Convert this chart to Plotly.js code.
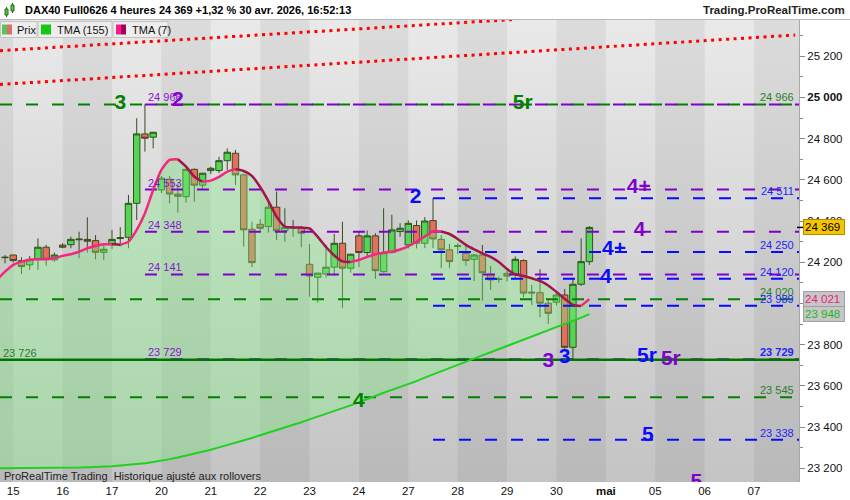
<!DOCTYPE html>
<html>
<head>
<meta charset="utf-8">
<script src="https://cdn.plot.ly/plotly-3.0.1.min.js"></script>
<style>
  html, body { margin:0; padding:0; background:#fff; }
  #chart { width:850px; height:500px; }
</style>
</head>
<body>
<div id="chart"></div>
<script>
// ---------- DATA ----------
const dayTickIdx = [1,7,13,19,25,31,37,43,49,55,61,67,73,79,85,91];
const dayLabels  = ['15','16','17','20','21','22','23','24','27','28','29','30','<b>mai</b>','05','06','07'];

const candleOpen  = [24222,24235,24208,24187,24214,24273,24211,24283,24285,24309,24311,24305,24248,24284,24315,24321,24486,24823,24807,24551,24603,24531,24518,24651,24574,24645,24645,24693,24729,24624,24360,24384,24373,24467,24353,24366,24365,24190,24127,24143,24176,24292,24171,24328,24247,24328,24154,24247,24349,24284,24378,24292,24402,24311,24260,24277,24243,24214,24235,24141,24116,24146,24142,24208,24050,24052,24001,24006,24041,23787,24093,24203];
const candleHigh  = [24235,24237,24224,24230,24316,24284,24247,24292,24324,24348,24418,24332,24289,24357,24370,24527,24899,24966,24833,24619,24619,24583,24653,24655,24634,24664,24712,24753,24745,24630,24397,24409,24494,24543,24462,24405,24376,24289,24149,24284,24337,24396,24241,24348,24354,24341,24462,24430,24389,24403,24403,24419,24511,24332,24289,24292,24280,24240,24284,24182,24130,24160,24228,24214,24090,24166,24017,24061,24070,24124,24316,24375];
const candleLow   = [24195,24198,24143,24163,24163,24182,24203,24268,24268,24219,24247,24214,24211,24263,24276,24268,24405,24737,24753,24536,24486,24441,24489,24494,24556,24628,24632,24648,24575,24276,24176,24353,24344,24308,24300,24324,24273,24033,24004,24125,24133,23977,24149,24176,24227,24119,24149,24242,24324,24267,24267,24268,24268,24171,24171,24240,24183,24109,24013,24066,24100,24107,24117,24030,23993,23933,23900,23991,23780,23729,24085,24187];
const candleClose = [24224,24208,24179,24214,24273,24214,24235,24273,24311,24312,24302,24248,24263,24311,24320,24486,24823,24802,24831,24608,24531,24520,24651,24574,24632,24656,24693,24734,24624,24357,24198,24365,24467,24353,24370,24368,24341,24133,24147,24176,24292,24171,24239,24247,24328,24159,24246,24357,24365,24389,24292,24400,24313,24260,24203,24280,24208,24235,24149,24114,24118,24133,24214,24050,24054,24001,23952,24041,23787,24093,24203,24369];

// moving averages, first value is one bar before the first candle
const tma7Values   = [24114,24154,24187,24203,24211,24214,24215,24219,24231,24239,24251,24268,24279,24287,24289,24285,24300,24357,24438,24551,24648,24697,24700,24664,24615,24591,24596,24614,24640,24652,24643,24619,24565,24497,24421,24373,24369,24368,24364,24323,24274,24233,24204,24201,24211,24226,24239,24246,24251,24262,24277,24300,24325,24349,24349,24337,24313,24284,24262,24243,24226,24201,24167,24141,24133,24122,24109,24087,24056,24022,23993,23988,24021];
const tma155Values = [23200,23200,23200,23200,23200,23200,23200,23201,23201,23202,23203,23205,23206,23208,23210,23213,23216,23220,23224,23230,23236,23244,23252,23261,23269,23279,23290,23301,23312,23323,23335,23347,23360,23372,23385,23398,23410,23423,23437,23450,23463,23477,23490,23505,23520,23536,23552,23566,23580,23594,23607,23623,23640,23656,23671,23686,23702,23717,23732,23748,23763,23778,23794,23809,23824,23839,23855,23870,23885,23900,23916,23931,23948];

// horizontal levels
const levelValues = [24966,24966,24553,24511,24348,24250,24141,24120,24020,23989,23729,23726,23545,23338];
const levelColors = ['g','p','p','b','p','b','p','b','g','b','p','g','g','b'];
const levelStart  = ['L',17,17,52,17,52,17,52,'L',52,17,'L','L',52];
const levelSolid  = [false,false,false,false,false,false,false,false,false,false,false,true,false,false];

// trend lines (red dotted)
const trendUpperX = [-0.61, 62];
const trendUpperY = [25227, 25379];
const trendLowerX = [-0.61, 96.0];
const trendLowerY = [25063, 25303];

// level tags
const rightLabelValues = [24966,24511,24250,24120,24020,23989,23729,23545,23338];
const rightLabelColors = ['g','b','b','b','g','b','b','g','b'];
const rightLabelBold   = [false,false,false,false,false,false,true,false,false];
const leftLabelValues  = [24966,24553,24348,24141,23729];
const leftGreenLabel   = 23726;

// wave marks
const markText  = ['3','2','5r','2','4+','4','4+','4','3','3','5r','5r','4','5','5'];
const markIdx   = [14.0,21.0,62.9,49.9,77.0,77.1,74.0,73.0,66.0,68.0,78.0,80.9,43.0,78.1,84.0];
const markValue = [24970,24985,24968,24514,24561,24352,24262,24124,23717,23738,23740,23726,23524,23357,23131];
const markColor = ['g','p','g','b','p','p','b','b','p','b','b','p','g','b','p'];

// right price boxes
const lastPrice = 24369, tma7Last = 24021, tma155Last = 23948;

const yMajorTicks = [23200,23400,23600,23800,24000,24200,24400,24600,24800,25000,25200];
const yHiddenTick = 24000; // covered by the TMA(7) price box
const yMinorTicks = [23300,23500,23700,23900,24100,24300,24500,24700,24900,25100,25300];

// ---------- STYLE / LAYOUT ----------
const XMIN = -0.61, XMAX = 96.47, YMIN = 23133, YMAX = 25376;
const FONT = 'Liberation Sans, Arial, sans-serif';
const COL = { g:'#008200', p:'#8000cc', b:'#0a0aff' };
const TXT = { g:'#2c7d2c', p:'#8a14d0', b:'#2424ff' };
const PW = 799, PTOP = 20, PBOT = 482, PH = PBOT - PTOP;
const px = x => x / PW;
const py = y => (PBOT - y) / PH;
const fmt = v => String(v).replace(/\B(?=(\d{3})+(?!\d))/g, ' ');

const candleIdx = candleOpen.map((_, i) => i);
const tmaIdx = tma7Values.map((_, i) => i - 1);

const traces = [];
// fill between TMA155 and TMA7
traces.push({ type:'scatter', mode:'lines', x:tmaIdx, y:tma155Values, line:{width:0, color:'rgba(0,0,0,0)'}, hoverinfo:'skip' });
traces.push({ type:'scatter', mode:'lines', x:tmaIdx, y:tma7Values, line:{width:0, color:'rgba(0,0,0,0)'}, fill:'tonexty', fillcolor:'rgba(130,240,130,0.36)', hoverinfo:'skip' });

// candles
traces.push({
  type:'candlestick', x:candleIdx, open:candleOpen, high:candleHigh, low:candleLow, close:candleClose,
  increasing:{ line:{color:'#2c5418', width:1}, fillcolor:'#55d455' },
  decreasing:{ line:{color:'#3a4a1c', width:1}, fillcolor:'#e66e5e' },
  whiskerwidth:0, hoverinfo:'skip'
});

// level lines
levelValues.forEach((v, k) => {
  const x0 = levelStart[k] === 'L' ? XMIN : levelStart[k];
  traces.push({
    type:'scatter', mode:'lines', x:[x0, XMAX], y:[v, v], hoverinfo:'skip',
    line: levelSolid[k] ? {color:'#007400', width:2.5} : {color:COL[levelColors[k]], width:2, dash:'12px,14px'}
  });
});

// trend lines
[[trendUpperX, trendUpperY],[trendLowerX, trendLowerY]].forEach(([tx, ty]) => {
  traces.push({ type:'scatter', mode:'lines', x:tx, y:ty, hoverinfo:'skip',
    line:{color:'#ff0000', width:3, dash:'3px,4.5px'} });
});

// TMA155 line
traces.push({ type:'scatter', mode:'lines', x:tmaIdx, y:tma155Values, line:{color:'#1ed21e', width:2}, hoverinfo:'skip' });

// TMA7 line, coloured by slope
let runStart = 0;
for (let i = 1; i <= tma7Values.length; i++) {
  const dir = i < tma7Values.length ? (tma7Values[i] >= tma7Values[i-1]) : null;
  const prevDir = tma7Values[runStart+1] >= tma7Values[runStart];
  if (i === tma7Values.length || (i > runStart + 1 && dir !== prevDir)) {
    const end = i - 1;
    traces.push({ type:'scatter', mode:'lines', x:tmaIdx.slice(runStart, end+1), y:tma7Values.slice(runStart, end+1),
      line:{color: prevDir ? '#f5267f' : '#a5124f', width:2.5, shape:'spline', smoothing:0.6}, hoverinfo:'skip' });
    runStart = end;
  }
}

// wave marks
traces.push({
  type:'scatter', mode:'text', x:markIdx, y:markValue, text:markText.map(t => '<b>' + t + '</b>'),
  textposition:'middle center', cliponaxis:true, hoverinfo:'skip',
  textfont:{family:FONT, size:21, color:markColor.map(c => COL[c])}
});

// ---------- annotations ----------
const ann = [];
rightLabelValues.forEach((v, k) => {
  ann.push({ xref:'paper', yref:'y', x:px(795), y:v, xanchor:'right', yanchor:'bottom', showarrow:false,
    text: rightLabelBold[k] ? '<b>' + fmt(v) + '</b>' : fmt(v), borderpad:0,
    font:{family:FONT, size:11, color:TXT[rightLabelColors[k]]} });
});
leftLabelValues.forEach(v => {
  ann.push({ xref:'x', yref:'y', x:17.25, y:v, xanchor:'left', yanchor:'bottom', showarrow:false, text:fmt(v), borderpad:0,
    font:{family:FONT, size:11, color:TXT.p} });
});
ann.push({ xref:'paper', yref:'y', x:px(2), y:leftGreenLabel, xanchor:'left', yanchor:'bottom', showarrow:false,
  text:fmt(leftGreenLabel), borderpad:0, font:{family:FONT, size:11, color:TXT.g} });

// price boxes on axis
ann.push({ xref:'paper', yref:'y', x:px(803), y:lastPrice, xanchor:'left', yanchor:'middle', showarrow:false,
  text:fmt(lastPrice) + ' ', bgcolor:'#f6c400', bordercolor:'#b08a00', borderwidth:1, borderpad:1,
  font:{family:FONT, size:11.5, color:'#000'} });
ann.push({ xref:'paper', yref:'y', x:px(803), y:tma7Last, xanchor:'left', yanchor:'middle', showarrow:false,
  text:fmt(tma7Last) + ' ', bgcolor:'#c6c6c6', bordercolor:'#a0a0a0', borderwidth:1, borderpad:1,
  font:{family:FONT, size:11.5, color:'#e8227a'} });
ann.push({ xref:'paper', yref:'y', x:px(803), y:tma155Last, xanchor:'left', yanchor:'middle', showarrow:false,
  text:fmt(tma155Last) + ' ', bgcolor:'#c6c6c6', bordercolor:'#a0a0a0', borderwidth:1, borderpad:1,
  font:{family:FONT, size:11.5, color:'#20b820'} });

// header
ann.push({ xref:'paper', yref:'paper', x:px(23), y:py(10), xanchor:'left', yanchor:'middle', showarrow:false,
  text:'<b>DAX40 Full0626 4 heures 24 369 +1,32 % 30 avr. 2026, 16:52:13</b>', font:{family:FONT, size:11, color:'#000'} });
ann.push({ xref:'paper', yref:'paper', x:px(847), y:py(10), xanchor:'right', yanchor:'middle', showarrow:false,
  text:'<b>Trading.ProRealTime.com</b>', font:{family:FONT, size:11.5, color:'#222'} });

// legend row texts
[['Prix',15],['TMA (155)',55],['TMA (7)',130]].forEach(([t, x]) => {
  ann.push({ xref:'paper', yref:'paper', x:px(x), y:py(29.5), xanchor:'left', yanchor:'middle', showarrow:false,
    text:t, font:{family:FONT, size:11, color:'#111'} });
});
// footer
ann.push({ xref:'paper', yref:'paper', x:px(2), y:py(476), xanchor:'left', yanchor:'middle', showarrow:false,
  text:'ProRealTime Trading&nbsp; Historique ajusté aux rollovers', font:{family:FONT, size:11, color:'#222'} });

// ---------- shapes ----------
const shapes = [];
// day stripes (dark days)
shapes.push({ type:'rect', layer:'below', xref:'x', yref:'paper', x0:XMIN, x1:dayTickIdx[0], y0:0, y1:1, fillcolor:'rgba(0,0,0,0.055)', line:{width:0} });
for (let k = 1; k < dayTickIdx.length; k += 2) {
  const x1 = k + 1 < dayTickIdx.length ? dayTickIdx[k+1] : XMAX;
  shapes.push({ type:'rect', layer:'below', xref:'x', yref:'paper', x0:dayTickIdx[k], x1:x1, y0:0, y1:1, fillcolor:'rgba(0,0,0,0.055)', line:{width:0} });
}
// header separator
shapes.push({ type:'line', xref:'paper', yref:'paper', x0:0, x1:px(850), y0:py(19.5), y1:py(19.5), line:{color:'#b8b8b8', width:1} });
// header icon
shapes.push({ type:'line', xref:'paper', yref:'paper', x0:px(6.5), x1:px(6.5), y0:py(17), y1:py(7), line:{color:'#2a6a1a', width:1} });
shapes.push({ type:'rect', xref:'paper', yref:'paper', x0:px(5), x1:px(8), y0:py(15), y1:py(9), fillcolor:'#4cc84c', line:{color:'#2a6a1a', width:1} });
shapes.push({ type:'line', xref:'paper', yref:'paper', x0:px(12.5), x1:px(12.5), y0:py(13), y1:py(3), line:{color:'#2a6a1a', width:1} });
shapes.push({ type:'rect', xref:'paper', yref:'paper', x0:px(11), x1:px(14), y0:py(11), y1:py(5), fillcolor:'#4cc84c', line:{color:'#2a6a1a', width:1} });
// legend boxes
[[0.5,37],[38,112],[113,168]].forEach(([a,b]) => {
  shapes.push({ type:'rect', xref:'paper', yref:'paper', x0:px(a), x1:px(b), y0:py(37.5), y1:py(21.5), fillcolor:'#ededed', line:{color:'#c2c2c2', width:1} });
});
[[2,7,'#52c852'],[7,12,'#e36a6a'],[41,51,'#14c814'],[116,121,'#ff1a8c'],[121,126,'#a0005a']].forEach(([a,b,c]) => {
  shapes.push({ type:'rect', xref:'paper', yref:'paper', x0:px(a), x1:px(b), y0:py(34.5), y1:py(24.5), fillcolor:c, line:{width:0} });
});
// small tick before last price box
shapes.push({ type:'line', xref:'paper', yref:'y', x0:px(797), x1:px(803), y0:lastPrice, y1:lastPrice, line:{color:'#000', width:1.5} });

// background gradient image
const svg = "<svg xmlns='http://www.w3.org/2000/svg' width='100' height='100' viewBox='0 0 100 100' preserveAspectRatio='none'>" +
  "<defs><linearGradient id='g' x1='0' y1='0' x2='0' y2='1'><stop offset='0' stop-color='#e9e9e9'/><stop offset='1' stop-color='#c4c4c4'/></linearGradient></defs>" +
  "<rect width='100' height='100' fill='url(#g)'/></svg>";
const bgSrc = 'data:image/svg+xml;charset=utf-8,' + encodeURIComponent(svg);

const layout = {
  width:850, height:500,
  margin:{l:0, r:51, t:20, b:18, pad:0},
  paper_bgcolor:'#ffffff', plot_bgcolor:'rgba(0,0,0,0)',
  font:{family:FONT, size:11.5, color:'#111'},
  showlegend:false, hovermode:false, dragmode:false,
  boxgap:0.22, boxgroupgap:0,
  xaxis:{
    range:[XMIN, XMAX], type:'linear', rangeslider:{visible:false},
    tickmode:'array', tickvals:dayTickIdx, ticktext:dayLabels,
    showgrid:false, zeroline:false, showline:false, ticks:'',
    tickfont:{family:FONT, size:11.5, color:'#111'}, fixedrange:true
  },
  yaxis:{
    side:'right', range:[YMIN, YMAX], tickmode:'array', tickvals:yMajorTicks,
    ticktext:yMajorTicks.map(v => v === yHiddenTick ? '' : (v === 25000 ? '<b>' + fmt(v) + '</b>' : fmt(v))),
    ticks:'outside', ticklen:5, tickcolor:'#8a8a8a', tickwidth:1,
    minor:{tickmode:'array', tickvals:yMinorTicks, ticks:'outside', ticklen:3, tickcolor:'#8a8a8a', showgrid:false},
    showgrid:false, zeroline:false, showline:true, linecolor:'#a8a8a8', linewidth:1,
    tickfont:{family:FONT, size:11.5, color:'#111'}, fixedrange:true
  },
  images:[{ source:bgSrc, xref:'paper', yref:'paper', x:0, y:1, sizex:1, sizey:1, xanchor:'left', yanchor:'top', sizing:'stretch', layer:'below' }],
  shapes:shapes,
  annotations:ann
};

Plotly.newPlot('chart', traces, layout, {staticPlot:true, displayModeBar:false});
</script>
</body>
</html>
